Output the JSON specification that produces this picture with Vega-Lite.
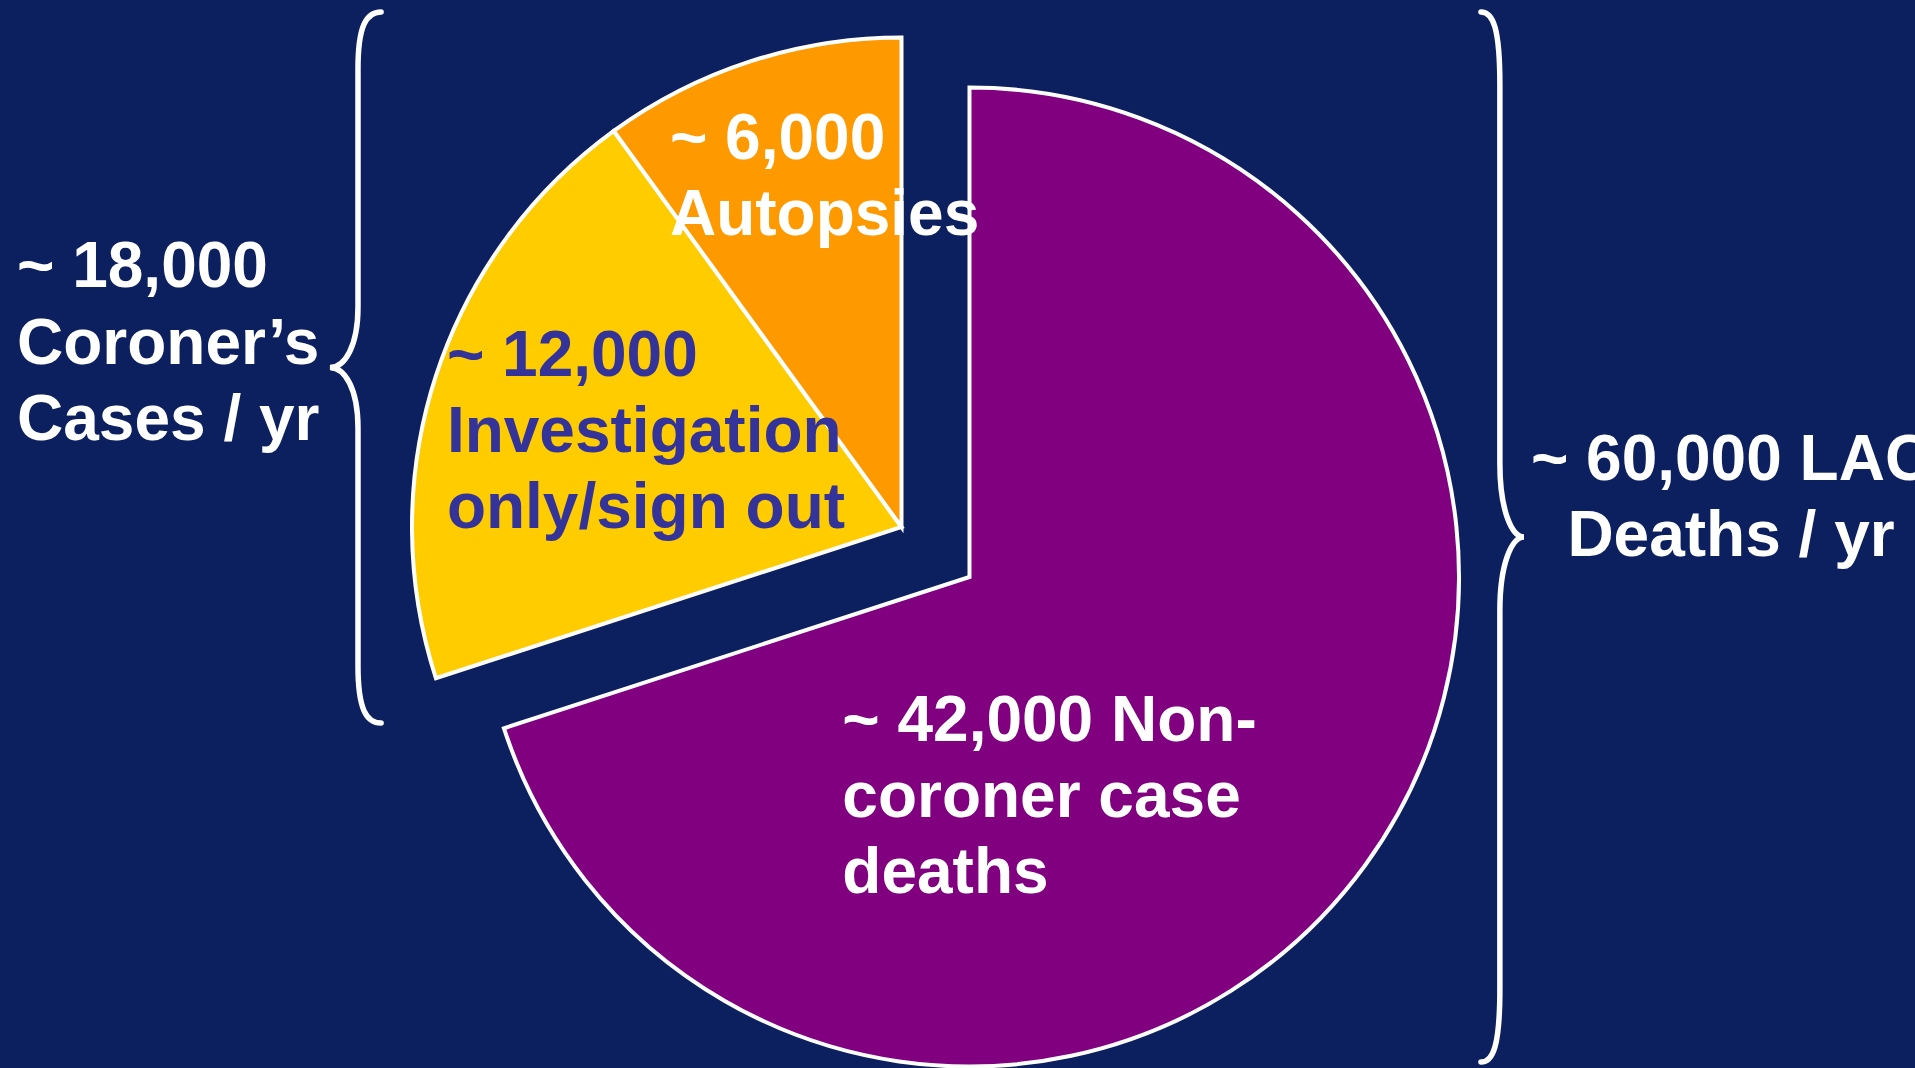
{
  "$schema": "https://vega.github.io/schema/vega-lite/v6.json",
  "width": 1915,
  "height": 1068,
  "autosize": "none",
  "padding": 0,
  "background": "#0C1F5F",
  "config": {"view": {"stroke": null}},
  "datasets": {
    "slices": [
      {"category": "Non-coroner case deaths", "label": "~ 42,000 Non-\ncoroner case\ndeaths", "value": 42000, "group": "Non-coroner", "order": 1},
      {"category": "Investigation only/sign out", "label": "~ 12,000\nInvestigation\nonly/sign out", "value": 12000, "group": "Coroner", "order": 2},
      {"category": "Autopsies", "label": "~ 6,000\nAutopsies", "value": 6000, "group": "Coroner", "order": 3}
    ],
    "totals": [
      {"side": "left", "label": "~ 18,000\nCoroner’s\nCases / yr", "total": 18000},
      {"side": "right", "label": "~ 60,000 LAC\nDeaths / yr", "total": 60000}
    ]
  },
  "layer": [
    {
      "data": {"name": "slices"},
      "transform": [
        {"stack": "value", "groupby": [], "sort": [{"field": "order", "order": "ascending"}], "as": ["v0", "v1"]},
        {"filter": "datum.group === 'Coroner'"}
      ],
      "mark": {"type": "arc", "outerRadius": 489.5, "stroke": "white", "strokeWidth": 4, "xOffset": -56, "yOffset": -7},
      "encoding": {
        "theta": {"field": "v0", "type": "quantitative", "scale": {"domain": [0, 60000]}},
        "theta2": {"field": "v1"},
        "color": {"field": "category", "type": "nominal", "scale": {"domain": ["Non-coroner case deaths", "Investigation only/sign out", "Autopsies"], "range": ["#800080", "#FFCC00", "#FF9900"]}, "legend": null}
      }
    },
    {
      "data": {"name": "slices"},
      "transform": [
        {"stack": "value", "groupby": [], "sort": [{"field": "order", "order": "ascending"}], "as": ["v0", "v1"]},
        {"filter": "datum.group === 'Non-coroner'"}
      ],
      "mark": {"type": "arc", "outerRadius": 489.5, "stroke": "white", "strokeWidth": 4, "xOffset": 12, "yOffset": 43},
      "encoding": {
        "theta": {"field": "v0", "type": "quantitative", "scale": {"domain": [0, 60000]}},
        "theta2": {"field": "v1"},
        "color": {"field": "category", "type": "nominal", "scale": {"domain": ["Non-coroner case deaths", "Investigation only/sign out", "Autopsies"], "range": ["#800080", "#FFCC00", "#FF9900"]}, "legend": null}
      }
    },
    {
      "data": {"name": "slices"},
      "mark": {"type": "text", "radius": 200, "dx": -289, "dy": 46, "xOffset": 12, "yOffset": 43, "align": "left", "baseline": "alphabetic", "font": "Liberation Sans", "fontWeight": "bold", "fontSize": 64, "lineHeight": 76, "lineBreak": "\n", "color": "white"},
      "encoding": {
        "theta": {"field": "value", "type": "quantitative", "stack": true, "scale": {"domain": [0, 60000]}},
        "order": {"field": "order", "type": "quantitative"},
        "detail": {"field": "category", "type": "nominal"},
        "text": {"condition": {"test": "datum.category === 'Non-coroner case deaths'", "field": "label"}, "value": ""}
      }
    },
    {
      "data": {"name": "slices"},
      "mark": {"type": "text", "radius": 478, "dx": 0, "dy": -3, "xOffset": -56, "yOffset": -7, "align": "left", "baseline": "alphabetic", "font": "Liberation Sans", "fontWeight": "bold", "fontSize": 64, "lineHeight": 76, "lineBreak": "\n", "color": "#333399"},
      "encoding": {
        "theta": {"field": "value", "type": "quantitative", "stack": true, "scale": {"domain": [0, 60000]}},
        "order": {"field": "order", "type": "quantitative"},
        "detail": {"field": "category", "type": "nominal"},
        "text": {"condition": {"test": "datum.category === 'Investigation only/sign out'", "field": "label"}, "value": ""}
      }
    },
    {
      "data": {"name": "slices"},
      "mark": {"type": "text", "radius": 387, "dx": -112, "dy": 0, "xOffset": -56, "yOffset": -7, "align": "left", "baseline": "alphabetic", "font": "Liberation Sans", "fontWeight": "bold", "fontSize": 64, "lineHeight": 76, "lineBreak": "\n", "color": "white"},
      "encoding": {
        "theta": {"field": "value", "type": "quantitative", "stack": true, "scale": {"domain": [0, 60000]}},
        "order": {"field": "order", "type": "quantitative"},
        "detail": {"field": "category", "type": "nominal"},
        "text": {"condition": {"test": "datum.category === 'Autopsies'", "field": "label"}, "value": ""}
      }
    },
    {
      "data": {"name": "totals"},
      "transform": [{"filter": "datum.side === 'left'"}],
      "mark": {"type": "text", "align": "left", "baseline": "alphabetic", "font": "Liberation Sans", "fontWeight": "bold", "fontSize": 64, "lineHeight": 76.5, "lineBreak": "\n", "color": "white"},
      "encoding": {
        "x": {"field": "side", "type": "nominal", "scale": {"type": "point", "domain": ["left", "right"], "range": [17, 1731], "padding": 0}, "axis": null},
        "y": {"field": "side", "type": "nominal", "scale": {"type": "point", "domain": ["left", "right"], "range": [287, 480], "padding": 0}, "axis": null},
        "text": {"field": "label"}
      }
    },
    {
      "data": {"name": "totals"},
      "transform": [{"filter": "datum.side === 'right'"}],
      "mark": {"type": "text", "align": "center", "baseline": "alphabetic", "font": "Liberation Sans", "fontWeight": "bold", "fontSize": 64, "lineHeight": 76, "lineBreak": "\n", "color": "white"},
      "encoding": {
        "x": {"field": "side", "type": "nominal", "scale": {"type": "point", "domain": ["left", "right"], "range": [17, 1731], "padding": 0}, "axis": null},
        "y": {"field": "side", "type": "nominal", "scale": {"type": "point", "domain": ["left", "right"], "range": [287, 480], "padding": 0}, "axis": null},
        "text": {"field": "label"}
      }
    },
    {
      "data": {"name": "totals"},
      "mark": {"type": "point", "filled": false, "color": "white", "strokeWidth": 5.5, "opacity": 1, "strokeCap": "round"},
      "encoding": {
        "x": {"field": "side", "type": "nominal", "scale": {"type": "point", "domain": ["left", "right"], "range": [355.5, 1502.5], "padding": 0}, "axis": null},
        "y": {"field": "side", "type": "nominal", "scale": {"type": "point", "domain": ["left", "right"], "range": [367.5, 537], "padding": 0}, "axis": null},
        "shape": {"field": "side", "type": "nominal", "scale": {"domain": ["left", "right"], "range": [
          "M 0.072 -1 C 0.03 -1 0.007 -0.96 0.007 -0.84 L 0.007 -0.17 C 0.007 -0.06 -0.03 0 -0.072 0 C -0.03 0 0.007 0.06 0.007 0.17 L 0.007 0.84 C 0.007 0.96 0.03 1 0.072 1",
          "M -0.041 -1 C -0.018 -1 -0.005 -0.97 -0.005 -0.86 L -0.005 -0.14 C -0.005 -0.05 0.018 0 0.041 0 C 0.018 0 -0.005 0.05 -0.005 0.14 L -0.005 0.86 C -0.005 0.97 -0.018 1 -0.041 1"
        ]}, "legend": null},
        "size": {"field": "total", "type": "quantitative", "scale": {"domain": [18000, 60000], "range": [505521, 1102500]}, "legend": null}
      }
    }
  ],
  "resolve": {"scale": {"x": "independent", "y": "independent"}}
}
